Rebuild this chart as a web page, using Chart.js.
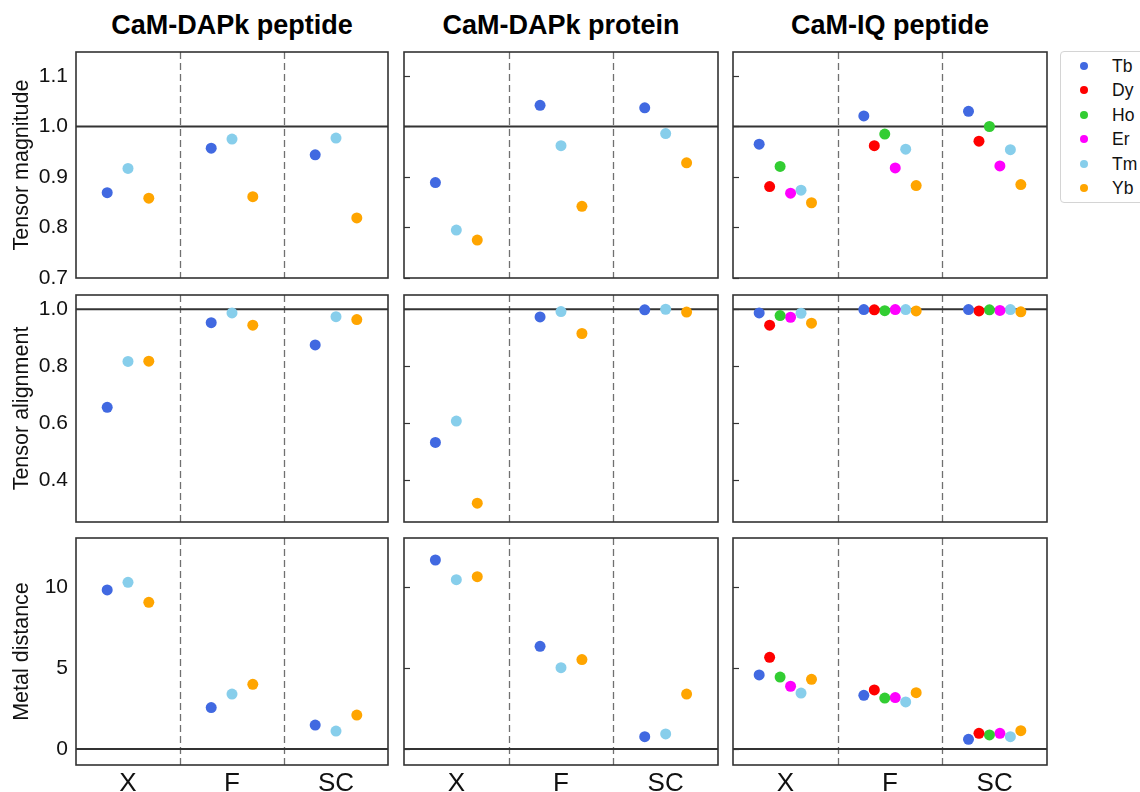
<!DOCTYPE html>
<html>
<head>
<meta charset="utf-8">
<title>Tensor comparison</title>
<script src="https://cdn.jsdelivr.net/npm/chart.js@4"></script>
<style>
    body { margin: 0; background: #fff; }
    #wrap { position: relative; width: 1140px; height: 792px; overflow: hidden; background: #fff; }
    #wrap canvas { position: absolute; }
    .col_title { position: absolute; top: 8px; width: 340px; text-align: center; font: bold 27px "Liberation Sans", Arial, sans-serif; line-height: 34px; color: #000; }
    #legend { position: absolute; left: 1060px; top: 51px; width: 100px; height: 150px; border: 1px solid #d4d4d4; border-radius: 4px; background: #fff; }
    .leg_row { position: absolute; left: 0; height: 24px; font: 17.5px "Liberation Sans", Arial, sans-serif; line-height: 24px; color: #111; }
    .leg_dot { position: absolute; left: 19px; top: 8px; width: 8px; height: 8px; border-radius: 50%; }
    .leg_txt { position: absolute; left: 51px; top: 0; }
</style>
</head>
<body>
<div id="wrap">
    <div class="col_title" style="left:62px">CaM-DAPk peptide</div>
    <div class="col_title" style="left:391px">CaM-DAPk protein</div>
    <div class="col_title" style="left:720px">CaM-IQ peptide</div>
    <div id="legend"></div>
</div>
<script>
// categories and ions
const categories = ['X', 'F', 'SC'];
const ionNames = ['Tb', 'Dy', 'Ho', 'Er', 'Tm', 'Yb'];
const ionColors = ['#4169E1', '#FF0000', '#32CD32', '#FF00FF', '#87CEEB', '#FFA500'];

// tick labels per row
const magTicks = [0.7, 0.8, 0.9, 1.0, 1.1];
const aliTicks = [0.4, 0.6, 0.8, 1.0];
const distTicks = [0, 5, 10];

// CaM-DAPk peptide  (values for X, F, SC)
const pepMagTb = [0.869, 0.957, 0.944];
const pepMagTm = [0.917, 0.975, 0.977];
const pepMagYb = [0.858, 0.861, 0.819];
const pepAliTb = [0.656, 0.953, 0.875];
const pepAliTm = [0.817, 0.987, 0.974];
const pepAliYb = [0.818, 0.944, 0.964];
const pepDistTb = [9.84, 2.56, 1.48];
const pepDistTm = [10.31, 3.40, 1.11];
const pepDistYb = [9.07, 4.00, 2.10];

// CaM-DAPk protein
const proMagTb = [0.889, 1.042, 1.037];
const proMagTm = [0.795, 0.962, 0.986];
const proMagYb = [0.775, 0.842, 0.928];
const proAliTb = [0.533, 0.973, 0.998];
const proAliTm = [0.608, 0.992, 1.000];
const proAliYb = [0.320, 0.915, 0.990];
const proDistTb = [11.69, 6.35, 0.76];
const proDistTm = [10.47, 5.03, 0.93];
const proDistYb = [10.66, 5.53, 3.40];

// CaM-IQ peptide
const iqMagTb = [0.965, 1.021, 1.030];
const iqMagDy = [0.881, 0.962, 0.971];
const iqMagHo = [0.921, 0.985, 1.000];
const iqMagEr = [0.868, 0.918, 0.922];
const iqMagTm = [0.874, 0.955, 0.954];
const iqMagYb = [0.849, 0.883, 0.885];
const iqAliTb = [0.987, 0.999, 0.999];
const iqAliDy = [0.944, 0.998, 0.994];
const iqAliHo = [0.978, 0.995, 0.998];
const iqAliEr = [0.972, 0.999, 0.996];
const iqAliTm = [0.986, 0.999, 0.999];
const iqAliYb = [0.951, 0.994, 0.991];
const iqDistTb = [4.58, 3.32, 0.60];
const iqDistDy = [5.67, 3.65, 0.97];
const iqDistHo = [4.45, 3.15, 0.87];
const iqDistEr = [3.88, 3.18, 0.97];
const iqDistTm = [3.46, 2.91, 0.76];
const iqDistYb = [4.31, 3.48, 1.13];

// x offsets of the ions inside a category
const offsets3 = [-0.2, 0, 0.2];
const offsets6 = [-0.25, -0.15, -0.05, 0.05, 0.15, 0.25];

const rows = [
    { title: 'Tensor magnitude', min: 0.7, max: 1.1475, ticks: magTicks, ref: 1.0, fmt: v => v.toFixed(1) },
    { title: 'Tensor alignment', min: 0.254, max: 1.05, ticks: aliTicks, ref: 1.0, fmt: v => v.toFixed(1) },
    { title: 'Metal distance', min: -0.99, max: 13.05, ticks: distTicks, ref: 0, fmt: v => String(v) }
];
const colBox = [[76, 388], [404, 718], [733, 1047]];
const rowBox = [[52, 278], [295, 522], [538, 765]];

const panels = [
    { col: 0, row: 0, ions: ['Tb', 'Tm', 'Yb'], values: [pepMagTb, pepMagTm, pepMagYb] },
    { col: 0, row: 1, ions: ['Tb', 'Tm', 'Yb'], values: [pepAliTb, pepAliTm, pepAliYb] },
    { col: 0, row: 2, ions: ['Tb', 'Tm', 'Yb'], values: [pepDistTb, pepDistTm, pepDistYb] },
    { col: 1, row: 0, ions: ['Tb', 'Tm', 'Yb'], values: [proMagTb, proMagTm, proMagYb] },
    { col: 1, row: 1, ions: ['Tb', 'Tm', 'Yb'], values: [proAliTb, proAliTm, proAliYb] },
    { col: 1, row: 2, ions: ['Tb', 'Tm', 'Yb'], values: [proDistTb, proDistTm, proDistYb] },
    { col: 2, row: 0, ions: ionNames, values: [iqMagTb, iqMagDy, iqMagHo, iqMagEr, iqMagTm, iqMagYb] },
    { col: 2, row: 1, ions: ionNames, values: [iqAliTb, iqAliDy, iqAliHo, iqAliEr, iqAliTm, iqAliYb] },
    { col: 2, row: 2, ions: ionNames, values: [iqDistTb, iqDistDy, iqDistHo, iqDistEr, iqDistTm, iqDistYb] }
];

const FONT = '"Liberation Sans", Arial, sans-serif';

// frame, dashed dividers, reference line and inner ticks
const framePlugin = {
    id: 'frame',
    beforeDatasetsDraw(chart, args, opts) {
        const { ctx, chartArea: a, scales: { x, y } } = chart;
        ctx.save();
        ctx.strokeStyle = '#707070';
        ctx.lineWidth = 1.3;
        ctx.setLineDash([7, 4]);
        [1, 2].forEach(v => {
            const px = Math.round(x.getPixelForValue(v)) + 0.5;
            ctx.beginPath();
            ctx.moveTo(px, a.top);
            ctx.lineTo(px, a.bottom);
            ctx.stroke();
        });
        ctx.setLineDash([]);
        ctx.strokeStyle = '#333';
        ctx.lineWidth = 2.2;
        const py = y.getPixelForValue(opts.refY);
        ctx.beginPath();
        ctx.moveTo(a.left, py);
        ctx.lineTo(a.right, py);
        ctx.stroke();
        ctx.restore();
    },
    afterDatasetsDraw(chart, args, opts) {
        const { ctx, chartArea: a, scales: { y } } = chart;
        ctx.save();
        ctx.strokeStyle = '#333';
        ctx.lineWidth = 1.6;
        ctx.strokeRect(a.left, a.top, a.right - a.left, a.bottom - a.top);
        if (opts.innerTicks) {
            ctx.lineWidth = 1.2;
            opts.ticks.forEach(v => {
                const py = Math.round(y.getPixelForValue(v)) + 0.5;
                ctx.beginPath();
                ctx.moveTo(a.left, py);
                ctx.lineTo(a.left + 6, py);
                ctx.stroke();
            });
        }
        ctx.restore();
    }
};

function makePanel(p) {
    const rw = rows[p.row];
    const [L, R] = colBox[p.col];
    const [T, B] = rowBox[p.row];
    const P = 12;
    const showX = p.row === 2;
    const showY = p.col === 0;
    const cl = showY ? 0 : L - P;
    const ct = T - P;
    const cw = R + P - cl;
    const ch = showX ? 800 - ct : B + P - ct;
    const canvas = document.createElement('canvas');
    canvas.width = cw;
    canvas.height = ch;
    canvas.style.left = cl + 'px';
    canvas.style.top = ct + 'px';
    document.getElementById('wrap').appendChild(canvas);

    const offs = p.ions.length === 3 ? offsets3 : offsets6;
    const datasets = p.ions.map((ion, i) => {
        const color = ionColors[ionNames.indexOf(ion)];
        return {
            label: ion,
            data: p.values[i].map((v, k) => ({ x: k + 0.5 + offs[i], y: v })),
            backgroundColor: color,
            borderColor: color,
            borderWidth: 0,
            pointRadius: 5.5,
            pointHoverRadius: 5.5
        };
    });

    new Chart(canvas, {
        type: 'scatter',
        data: { datasets: datasets },
        options: {
            responsive: false,
            animation: false,
            events: [],
            layout: {
                padding: { left: showY ? 0 : P, right: P, top: P, bottom: showX ? 0 : P }
            },
            plugins: {
                legend: { display: false },
                tooltip: { enabled: false },
                frame: { refY: rw.ref, ticks: rw.ticks, innerTicks: !showY }
            },
            scales: {
                x: {
                    type: 'linear',
                    min: 0,
                    max: 3,
                    display: showX,
                    afterBuildTicks: s => { s.ticks = categories.map((c, k) => ({ value: k + 0.5 })); },
                    afterFit: s => {
                        if (showX) { s.height = 800 - B; }
                        s.paddingLeft = 0;
                        s.paddingRight = 0;
                    },
                    grid: { display: false, drawTicks: false },
                    border: { display: false },
                    ticks: {
                        padding: 3,
                        color: '#111',
                        font: { family: FONT, size: 26 },
                        maxRotation: 0,
                        autoSkip: false,
                        callback: (v, k) => categories[k]
                    }
                },
                y: {
                    type: 'linear',
                    min: rw.min,
                    max: rw.max,
                    display: showY,
                    afterBuildTicks: s => { s.ticks = rw.ticks.map(v => ({ value: v })); },
                    afterFit: s => {
                        if (showY) { s.width = L; }
                        s.paddingTop = 0;
                        s.paddingBottom = 0;
                    },
                    grid: { display: false, drawTicks: false },
                    border: { display: false },
                    ticks: {
                        padding: 8,
                        color: '#111',
                        font: { family: FONT, size: 21 },
                        callback: v => rw.fmt(v)
                    },
                    title: {
                        display: true,
                        text: rw.title,
                        color: '#111',
                        font: { family: FONT, size: 21.5 },
                        padding: { top: 9, bottom: 0 }
                    }
                }
            }
        },
        plugins: [framePlugin]
    });
}

panels.forEach(makePanel);

// legend
const legend = document.getElementById('legend');
ionNames.forEach((ion, i) => {
    const row = document.createElement('div');
    row.className = 'leg_row';
    row.style.top = (2 + i * 24.4) + 'px';
    row.innerHTML = '<span class="leg_dot" style="background:' + ionColors[i] + '"></span><span class="leg_txt">' + ion + '</span>';
    legend.appendChild(row);
});
</script>
</body>
</html>
